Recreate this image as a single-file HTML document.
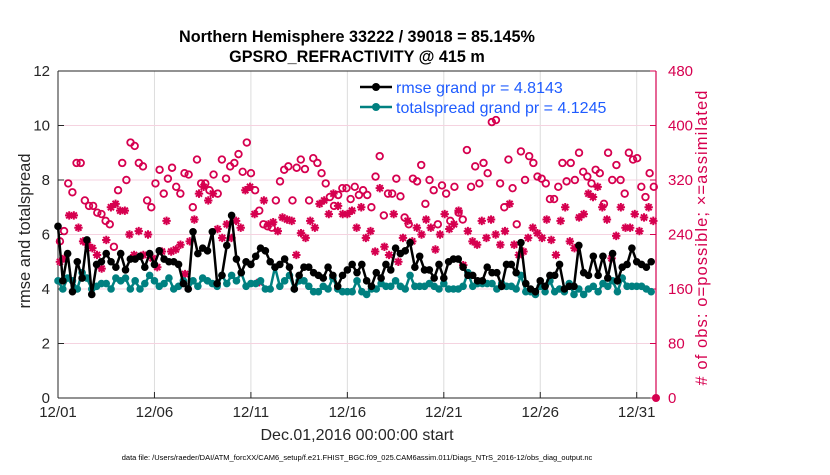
<!DOCTYPE html>
<html><head><meta charset="utf-8"><style>
body{margin:0;background:#fff;}
svg{font-family:"Liberation Sans",sans-serif;}
</style></head><body>
<svg id="c" width="830" height="470"></svg>
<script>
const rmse=[6.3,4.3,5.3,3.9,5.0,4.4,5.8,3.8,4.9,5.0,5.3,5.0,4.8,5.3,4.7,5.1,5.1,5.2,4.8,5.3,4.9,5.4,5.1,5.0,5.0,4.9,4.2,4.0,6.1,5.3,5.5,5.4,6.1,4.2,4.5,5.6,6.7,5.1,4.6,5.0,4.9,5.2,5.5,5.4,5.0,4.8,4.9,5.1,4.8,4.0,4.5,4.8,4.8,4.6,4.5,4.4,4.8,4.5,4.1,4.5,4.7,4.9,4.6,4.9,4.3,4.1,4.6,4.4,4.9,4.7,5.5,5.3,5.4,5.7,4.8,5.2,4.7,4.7,4.4,4.9,4.4,5.0,5.1,5.1,4.8,4.5,4.5,4.3,4.3,4.8,4.6,4.6,4.1,4.9,4.9,4.6,5.7,4.2,4.0,3.9,4.3,4.1,4.5,4.5,4.9,4.0,4.1,4.1,5.6,4.6,4.5,5.2,4.5,5.2,4.4,5.3,4.3,4.8,4.9,5.5,5.0,4.9,4.8,5.0];
const spread=[4.3,4.0,4.4,4.3,4.0,4.6,4.4,4.0,4.1,4.2,4.2,4.0,4.4,4.3,4.4,4.0,4.3,4.0,4.2,4.5,4.3,4.1,4.2,4.4,4.0,4.1,4.3,4.0,4.3,4.1,4.4,4.3,4.2,4.1,4.5,4.2,4.5,4.3,4.6,4.1,4.2,4.2,4.3,4.0,4.0,4.8,4.1,4.3,4.5,4.0,4.3,4.3,4.1,3.9,3.9,4.1,4.0,4.4,4.0,3.9,3.9,3.9,4.3,3.9,3.8,4.0,4.0,4.2,4.1,4.1,4.3,4.1,4.0,4.5,4.1,4.1,4.1,4.2,4.1,4.0,4.2,4.0,4.0,4.0,4.1,4.6,4.1,4.2,4.2,4.2,4.2,4.0,4.2,4.1,4.1,4.0,4.5,3.9,3.9,3.8,4.1,3.9,4.3,3.9,4.0,3.9,4.2,3.8,4.0,3.8,4.0,4.1,3.9,4.2,4.1,4.3,3.9,4.4,4.1,4.1,4.1,4.1,4.0,3.9];
const possible=[230,245,315,302,345,345,290,282,282,272,270,260,255,222,305,345,320,375,370,345,340,290,280,315,335,300,322,338,310,300,330,328,280,350,315,315,305,328,300,350,322,340,345,358,332,375,330,305,275,255,252,250,290,318,335,340,290,338,350,336,290,352,345,330,315,295,282,298,308,308,292,310,298,305,298,280,325,355,268,300,300,322,296,265,255,322,318,342,285,320,305,255,312,300,260,310,272,262,364,310,340,315,345,330,405,408,315,280,350,308,255,362,320,355,345,325,322,315,292,292,310,345,318,345,320,360,332,325,315,335,330,285,360,320,342,320,300,360,350,352,310,295,330,310];
const assim=[200,205,268,268,250,230,225,220,210,190,232,280,285,275,275,240,210,245,210,240,205,192,215,260,215,218,225,182,230,262,300,310,290,300,248,235,255,235,260,250,305,310,270,170,290,255,258,245,265,262,260,210,242,235,260,250,285,290,270,300,282,270,270,275,250,280,235,245,215,308,222,210,270,200,235,260,230,250,240,262,250,218,240,270,248,255,275,195,245,230,225,260,235,262,240,225,245,285,225,210,215,235,250,242,235,262,232,210,260,280,230,220,265,270,300,295,310,280,262,205,238,280,250,250,270,245,265,280,260];
const xTicks=['12/01','12/06','12/11','12/16','12/21','12/26','12/31'];
const yTicksL=[0,2,4,6,8,10,12];
const yTicksR=[0,80,160,240,320,400,480];
const NS='http://www.w3.org/2000/svg';
const svg=document.getElementById('c');
const X0=58,X1=656,Y0=398,Y1=71;
const xs=d=>X0+(X1-X0)*d/31;
const yL=v=>Y0-(Y0-Y1)*v/12;
const yR=v=>Y0-(Y0-Y1)*v/480;
function mk(t,a,p){const e=document.createElementNS(NS,t);for(const k in a)e.setAttribute(k,a[k]);(p||svg).appendChild(e);return e;}
mk('rect',{x:X0,y:Y1,width:X1-X0,height:Y0-Y1,fill:'#fff'});
const grid=mk('g',{});


xTicks.forEach((t,i)=>{const x=xs(i*5);mk('line',{x1:x,x2:x,y1:Y1,y2:Y0,stroke:'#dcdcdc','stroke-width':1},grid);});
yTicksR.forEach(v=>{const y=yR(v);mk('line',{x1:X0,x2:X1,y1:y,y2:y,stroke:'#f5d3e0','stroke-width':1},grid);});
mk('line',{x1:X0,x2:X0,y1:Y1,y2:Y0,stroke:'#262626'});
mk('line',{x1:X0,x2:X1,y1:Y0,y2:Y0,stroke:'#262626'});
mk('line',{x1:X0,x2:X1,y1:Y1,y2:Y1,stroke:'#262626'});
mk('line',{x1:X1,x2:X1,y1:Y1,y2:Y0,stroke:'#d6004f','stroke-width':1.2});
const xt=mk('g',{});


xTicks.forEach((t,i)=>{const x=xs(i*5);mk('line',{x1:x,x2:x,y1:Y0,y2:Y0-6,stroke:'#262626'},xt);const e=mk('text',{x:x,y:Y0+19,'text-anchor':'middle','font-size':15,fill:'#262626'},xt);e.textContent=t;});
const yl=mk('g',{});


yTicksL.forEach(v=>{const y=yL(v);mk('line',{x1:X0,x2:X0+6,y1:y,y2:y,stroke:'#262626'},yl);const e=mk('text',{x:X0-8,y:y+5,'text-anchor':'end','font-size':15,fill:'#262626'},yl);e.textContent=v;});
const yr=mk('g',{});


yTicksR.forEach(v=>{const y=yR(v);mk('line',{x1:X1,x2:X1-6,y1:y,y2:y,stroke:'#d6004f'},yr);const e=mk('text',{x:X1+12,y:y+5,'font-size':15,fill:'#d6004f'},yr);e.textContent=v;});
const gp=mk('g',{});


possible.forEach((v,i)=>{mk('circle',{cx:xs(i*31/possible.length+0.1),cy:yR(v),r:3.3,fill:'none',stroke:'#d6004f','stroke-width':1.8},gp);});
const ga=mk('g',{});


assim.forEach((v,i)=>{const x=xs(i*31/assim.length+0.1),y=yR(v),s=4.2,d=s*0.72;
 mk('path',{d:`M${x-s},${y}H${x+s}M${x},${y-s}V${y+s}M${x-d},${y-d}L${x+d},${y+d}M${x-d},${y+d}L${x+d},${y-d}`,stroke:'#d6004f','stroke-width':2},ga);});
mk('circle',{cx:X1,cy:Y0,r:4,fill:'#d6004f'});
function line(arr,col,name){const g=mk('g',{});
 const pts=arr.map((v,i)=>xs(i*0.25)+','+yL(v)).join(' ');
 mk('polyline',{points:pts,fill:'none',stroke:col,'stroke-width':2.5},g);
 arr.forEach((v,i)=>mk('circle',{cx:xs(i*0.25),cy:yL(v),r:3.8,fill:col},g));}
line(spread,'#008080','totalspread-series');
line(rmse,'#000','rmse-series');
const lg=mk('g',{});


[['#000','rmse grand pr = 4.8143',87],['#008080','totalspread grand pr = 4.1245',107]].forEach(a=>{
 mk('line',{x1:360,x2:392,y1:a[2],y2:a[2],stroke:a[0],'stroke-width':2.5},lg);
 mk('circle',{cx:376,cy:a[2],r:4,fill:a[0]},lg);
 const e=mk('text',{x:396,y:a[2]+6,'font-size':16,fill:'#1f5cff'},lg);e.textContent=a[1];});
function txt(s,a,n){const e=mk('text',a);e.textContent=s;return e;}
txt('Northern Hemisphere 33222 / 39018 = 85.145%',{x:357,y:42,'text-anchor':'middle','font-size':16.2,'font-weight':'bold',fill:'#000'},'chart-title');
txt('GPSRO_REFRACTIVITY @ 415 m',{x:357,y:62,'text-anchor':'middle','font-size':16.2,'font-weight':'bold',fill:'#000'},'chart-subtitle');
txt('Dec.01,2016 00:00:00 start',{x:357,y:440,'text-anchor':'middle','font-size':16,fill:'#262626'},'x-axis-title');
txt('rmse and totalspread',{x:0,y:0,'text-anchor':'middle','font-size':16.5,fill:'#262626',transform:'translate(30,231) rotate(-90)'},'left-y-axis-title');
txt('# of obs: o=possible; ×=assimilated',{x:0,y:0,'text-anchor':'middle','font-size':16.5,textLength:295,fill:'#d6004f',transform:'translate(707,238) rotate(-90)'},'right-y-axis-title');
txt('data file: /Users/raeder/DAI/ATM_forcXX/CAM6_setup/f.e21.FHIST_BGC.f09_025.CAM6assim.011/Diags_NTrS_2016-12/obs_diag_output.nc',{x:357,y:460,'text-anchor':'middle','font-size':7.5,fill:'#000'},'data-file-note');
</script>
</body></html>
